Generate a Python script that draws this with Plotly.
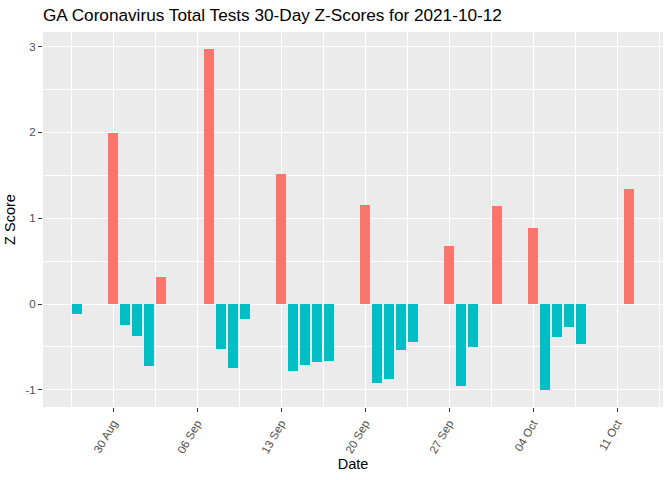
import plotly.graph_objects as go

dates = ["2021-08-27", "2021-08-30", "2021-08-31", "2021-09-01", "2021-09-02", "2021-09-03",
         "2021-09-07", "2021-09-08", "2021-09-09", "2021-09-10",
         "2021-09-13", "2021-09-14", "2021-09-15", "2021-09-16", "2021-09-17",
         "2021-09-20", "2021-09-21", "2021-09-22", "2021-09-23", "2021-09-24",
         "2021-09-27", "2021-09-28", "2021-09-29", "2021-10-01",
         "2021-10-04", "2021-10-05", "2021-10-06", "2021-10-07", "2021-10-08",
         "2021-10-12"]
zscores = [-0.12, 1.99, -0.24, -0.37, -0.72, 0.32,
           2.97, -0.52, -0.74, -0.17,
           1.515, -0.775, -0.705, -0.67, -0.66,
           1.155, -0.915, -0.87, -0.53, -0.44,
           0.68, -0.95, -0.50, 1.144,
           0.887, -0.997, -0.39, -0.265, -0.46,
           1.34]
tick_vals = ["2021-08-30", "2021-09-06", "2021-09-13", "2021-09-20", "2021-09-27", "2021-10-04", "2021-10-11"]
tick_text = ["30 Aug", "06 Sep", "13 Sep", "20 Sep", "27 Sep", "04 Oct", "11 Oct"]
y_ticks = [-1, 0, 1, 2, 3]

POS = "#F8766D"
NEG = "#00BFC4"
colors = [POS if v > 0 else NEG for v in zscores]

DAY = 86400000
fig = go.Figure(go.Bar(
    x=dates, y=zscores, width=[0.9 * DAY] * len(dates),
    marker=dict(color=colors, line=dict(width=0)),
    showlegend=False,
))

fig.update_layout(
    width=672, height=480,
    margin=dict(l=43, r=9, t=32, b=73),
    paper_bgcolor="white", plot_bgcolor="#EBEBEB",
    font=dict(family="Liberation Sans, Arial, sans-serif", color="#4D4D4D"),
    title=dict(text="GA Coronavirus Total Tests 30-Day Z-Scores for 2021-10-12",
               x=43 / 672, xanchor="left", y=1 - 15 / 480, yanchor="middle",
               font=dict(size=17.2, color="black")),
    bargap=0,
)
fig.update_xaxes(
    type="date", automargin=False,
    range=["2021-08-24 04:00", "2021-10-14 20:00"],
    tickmode="array", tickvals=tick_vals, ticktext=tick_text,
    tickangle=-60, tickfont=dict(size=11.5, color="#4D4D4D"),
    ticks="outside", ticklen=4, tickcolor="#333333", tickwidth=1,
    showgrid=True, gridcolor="white", gridwidth=1.3,
    minor=dict(tick0="2021-08-26 12:00", dtick=7 * DAY, showgrid=True,
               gridcolor="white", gridwidth=0.6, ticks=""),
    zeroline=False, showline=False,
    title=dict(text="Date", font=dict(size=14.5, color="black"), standoff=4),
)
fig.update_yaxes(
    automargin=False,
    range=[-1.2, 3.17],
    tickmode="array", tickvals=y_ticks, ticktext=[str(v) for v in y_ticks],
    tickfont=dict(size=11.5, color="#4D4D4D"),
    ticks="outside", ticklen=4, tickcolor="#333333", tickwidth=1,
    showgrid=True, gridcolor="white", gridwidth=1.3,
    minor=dict(tick0=-0.5, dtick=1, showgrid=True, gridcolor="white", gridwidth=0.6, ticks=""),
    zeroline=False, showline=False,
    title=dict(text="Z Score", font=dict(size=14.5, color="black"), standoff=6),
)

fig.write_html("out.html", config={"displayModeBar": False},
               post_script="document.body.style.margin='0';")
